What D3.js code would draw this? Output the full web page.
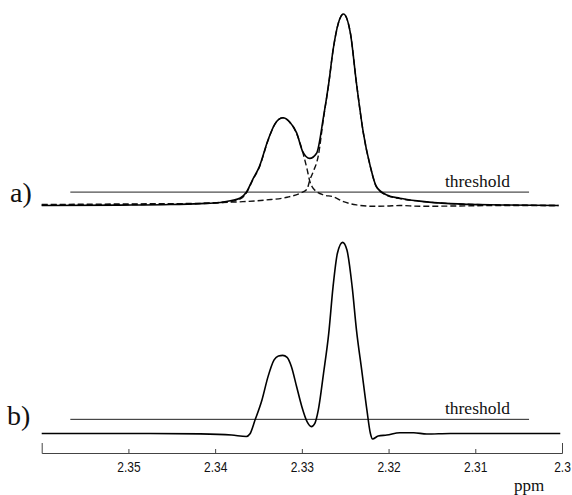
<!DOCTYPE html>
<html><head><meta charset="utf-8">
<script src="https://cdn.jsdelivr.net/npm/d3@7/dist/d3.min.js"></script>
<style>body{margin:0;background:#fff}</style>
</head><body>
<svg id="c" width="572" height="495"></svg>
<script>
// ---- data (ppm, intensity; big peak = 100) ----
const ppmSolidA = [2.3600,2.3510,2.3452,2.3417,2.3394,2.3381,2.3371,2.3364,2.3357,2.3349,2.3339,2.3331,2.3322,2.3314,2.3306,2.3299,2.3291,2.3283,2.3275,2.3269,2.3264,2.3258,2.3252,2.3244,2.3237,2.3229,2.3221,2.3214,2.3202,2.3187,2.3164,2.3129,2.3071,2.3004];
const intSolidA = [0,0.2,0.5,1.0,1.6,2.6,3.9,6.9,13.3,20.3,34.2,42.6,45.8,43.6,37.9,28.1,24.6,27.3,46.4,63.8,81.2,95.1,100,89.9,63.8,37.7,20.3,9.8,5.5,3.8,2.3,1.0,0.3,0];

const ppmCompSmallA = [2.3600,2.3475,2.3417,2.3383,2.3371,2.3364,2.3357,2.3349,2.3339,2.3331,2.3322,2.3314,2.3306,2.3302,2.3294,2.3291,2.3287,2.3275,2.3264,2.3252,2.3237,2.3218,2.3202,2.3187,2.3164,2.3129,2.3071,2.3004];
const intCompSmallA = [0.2,0.6,1.0,2.0,3.5,6.5,13.0,20.0,34.0,42.5,45.8,43.5,37.5,32.5,19,13,9,5.5,4.6,2.0,0.3,-0.4,-0.3,0,-0.4,-0.3,0,0];

const ppmCompBigA = [2.3600,2.3510,2.3417,2.3398,2.3368,2.3341,2.3317,2.3302,2.3294,2.3291,2.3287,2.3281,2.3275,2.3269,2.3264,2.3258,2.3252,2.3244,2.3237,2.3229,2.3221,2.3214,2.3202,2.3187,2.3164,2.3129,2.3071,2.3004];
const intCompBigA = [0.5,0.8,1.1,1.5,2.0,2.9,4.3,6.4,8.5,13,17.5,26,45.7,63.5,81,95,100,90,63.8,37.7,20.3,9.8,5.3,3.6,2.2,1.0,0.3,0];

const ppmB = [2.3600,2.3475,2.3417,2.3381,2.3364,2.3360,2.3354,2.3346,2.3339,2.3332,2.3327,2.3322,2.3317,2.3312,2.3306,2.3300,2.3294,2.3289,2.3285,2.3281,2.3275,2.3269,2.3264,2.3259,2.3253,2.3248,2.3242,2.3237,2.3231,2.3225,2.3221,2.32185,2.3212,2.3202,2.3187,2.3171,2.3156,2.3129,2.3002];
const intB = [0,0,-0.2,-0.8,-1.6,-0.3,7.0,17.5,29.7,38.4,40.5,40.8,39.8,34.9,24.4,14.0,6.2,3.6,5.3,12.3,31.4,52.3,76.7,94.1,99.8,95.8,76.7,54.0,33.2,12.3,0.1,-2.9,-1.3,-0.8,0.4,0.4,-0.3,0,0];

const thresholdA = 7.0;
const thresholdB = 7.4;
const thresholdRange = [2.3567, 2.3038];
const thresholdLabelPpm = 2.3135;
const tickValues = [2.35, 2.34, 2.33, 2.32, 2.31, 2.30];
const tickLabels = ["2.35", "2.34", "2.33", "2.32", "2.31", "2.3"];
const panelLabels = ["a)", "b)"];
const axisTitle = "ppm";

// ---- drawing ----
const svg = d3.select("#c");
const x = d3.scaleLinear().domain([2.36, 2.30]).range([41.7, 562]);
const yA = d3.scaleLinear().domain([0, 100]).range([205.5, 14]);
const yB = d3.scaleLinear().domain([0, 100]).range([433.5, 242]);

function pts(p, v){ return p.map((d,i)=>[d, v[i]]); }
function lineFor(y){ return d3.line().x(d=>x(d[0])).y(d=>y(d[1])).curve(d3.curveMonotoneX); }

const serif = "'Liberation Serif','Times New Roman',serif";

// threshold lines
[[yA, thresholdA], [yB, thresholdB]].forEach(([y, t]) => {
  svg.append("line")
    .attr("x1", x(thresholdRange[0])).attr("x2", x(thresholdRange[1]))
    .attr("y1", y(t)).attr("y2", y(t))
    .attr("stroke", "#222").attr("stroke-width", 1);
  svg.append("text")
    .attr("x", x(thresholdLabelPpm)).attr("y", y(t) - 5)
    .attr("font-family", serif).attr("font-size", 17.5)
    .attr("fill", "#111").text("threshold");
});

// panel a components (dashed)
svg.append("path").datum(pts(ppmCompSmallA, intCompSmallA))
  .attr("d", lineFor(yA)).attr("fill", "none")
  .attr("stroke", "#111").attr("stroke-width", 1.4).attr("stroke-dasharray", "6,3");
svg.append("path").datum(pts(ppmCompBigA, intCompBigA))
  .attr("d", lineFor(yA)).attr("fill", "none")
  .attr("stroke", "#111").attr("stroke-width", 1.4).attr("stroke-dasharray", "6,3");
// panel a solid
svg.append("path").datum(pts(ppmSolidA, intSolidA))
  .attr("d", lineFor(yA)).attr("fill", "none")
  .attr("stroke", "#000").attr("stroke-width", 1.6);
// panel b solid
svg.append("path").datum(pts(ppmB, intB))
  .attr("d", lineFor(yB)).attr("fill", "none")
  .attr("stroke", "#000").attr("stroke-width", 1.6);

// panel labels
svg.append("text").attr("x", 10).attr("y", yA(0) - 4)
  .attr("font-family", serif).attr("font-size", 28).attr("fill", "#111").text(panelLabels[0]);
svg.append("text").attr("x", 7).attr("y", yB(0) - 9)
  .attr("font-family", serif).attr("font-size", 28).attr("fill", "#111").text(panelLabels[1]);

// axis
const axis = d3.axisBottom(x)
  .tickValues(tickValues)
  .tickFormat((d,i)=>tickLabels[i])
  .tickSizeInner(-4).tickSizeOuter(-10).tickPadding(8);
const g = svg.append("g").attr("transform", "translate(0,453)").call(axis);
g.select(".domain").attr("stroke", "#444").attr("stroke-width", 1);
g.selectAll(".tick line").attr("stroke", "#444");
g.selectAll(".tick text")
  .attr("font-family", "'Liberation Sans',Arial,sans-serif")
  .attr("font-size", 15).attr("fill", "#111")
  .attr("transform", "scale(0.8,1)");
svg.append("text").attr("x", x(2.3038)).attr("y", 491)
  .attr("text-anchor", "middle")
  .attr("font-family", serif)
  .attr("font-size", 17).attr("fill", "#111").text(axisTitle);
</script>
</body></html>
